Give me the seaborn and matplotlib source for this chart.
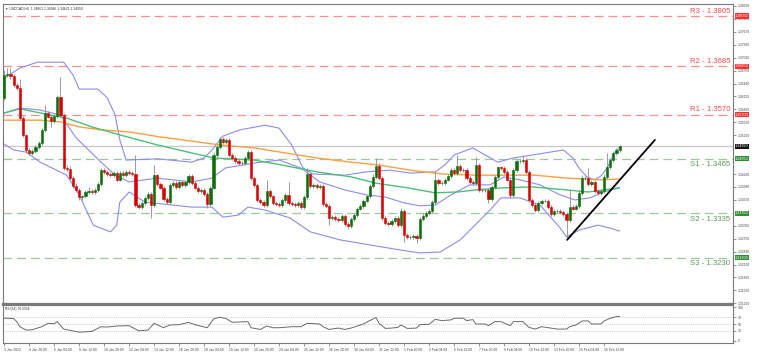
import numpy as np
import pandas as pd
import matplotlib
matplotlib.use("Agg")
import matplotlib.pyplot as plt
import seaborn as sns

sns.set_style("white")
plt.rcParams['font.family'] = ['Liberation Sans', 'DejaVu Sans']

# ---------------- data (USDCAD H4) ----------------
close = [
1.3665,1.3667,1.3662,1.3641,1.3634,1.3562,1.3522,1.3486,1.3479,1.3484,
1.3493,1.3503,1.3534,1.3574,1.3565,1.3555,1.3567,1.3612,1.3569,1.3443,
1.3441,1.3419,1.3400,1.3391,1.3374,1.3376,1.3386,1.3388,1.3386,1.3391,
1.3405,1.3438,1.3434,1.3429,1.3426,1.3431,1.3415,1.3431,1.3426,1.3434,
1.3431,1.3429,1.3355,1.3350,1.3360,1.3372,1.3381,1.3355,1.3426,1.3405,
1.3396,1.3369,1.3362,1.3403,1.3407,1.3398,1.3410,1.3403,1.3410,1.3424,
1.3407,1.3396,1.3388,1.3391,1.3381,1.3357,1.3396,1.3474,1.3493,1.3512,
1.3505,1.3510,1.3474,1.3467,1.3460,1.3455,1.3455,1.3467,1.3481,1.3419,
1.3403,1.3367,1.3362,1.3355,1.3388,1.3376,1.3360,1.3357,1.3355,1.3367,
1.3379,1.3360,1.3357,1.3355,1.3360,1.3350,1.3374,1.3429,1.3400,1.3403,
1.3398,1.3400,1.3357,1.3353,1.3324,1.3327,1.3322,1.3319,1.3329,1.3310,
1.3305,1.3322,1.3331,1.3346,1.3353,1.3365,1.3376,1.3400,1.3422,1.3448,
1.3419,1.3324,1.3312,1.3310,1.3317,1.3324,1.3307,1.3341,1.3284,1.3279,
1.3279,1.3281,1.3276,1.3322,1.3329,1.3336,1.3341,1.3362,1.3415,1.3407,
1.3407,1.3415,1.3424,1.3438,1.3431,1.3448,1.3438,1.3438,1.3419,1.3410,
1.3407,1.3450,1.3391,1.3391,1.3391,1.3369,1.3398,1.3422,1.3445,1.3443,
1.3434,1.3415,1.3379,1.3438,1.3460,1.3460,1.3462,1.3434,1.3367,1.3355,
1.3343,1.3360,1.3365,1.3365,1.3350,1.3334,1.3341,1.3341,1.3338,1.3334,
1.3319,1.3350,1.3346,1.3353,1.3384,1.3419,1.3419,1.3405,1.3410,1.3388,
1.3384,1.3388,1.3422,1.3445,1.3462,1.3479,1.3486,1.3495]

open_ = [
1.3610,1.3665,1.3667,1.3662,1.3641,1.3634,1.3562,1.3522,1.3486,1.3479,
1.3484,1.3493,1.3503,1.3534,1.3574,1.3565,1.3555,1.3567,1.3612,1.3569,
1.3443,1.3441,1.3419,1.3400,1.3391,1.3374,1.3376,1.3386,1.3388,1.3386,
1.3391,1.3405,1.3438,1.3434,1.3429,1.3426,1.3431,1.3415,1.3431,1.3426,
1.3434,1.3431,1.3429,1.3355,1.3350,1.3360,1.3372,1.3381,1.3355,1.3426,
1.3405,1.3396,1.3369,1.3362,1.3403,1.3407,1.3398,1.3410,1.3403,1.3410,
1.3424,1.3407,1.3396,1.3388,1.3391,1.3381,1.3357,1.3396,1.3474,1.3493,
1.3512,1.3505,1.3510,1.3474,1.3467,1.3460,1.3455,1.3455,1.3467,1.3481,
1.3419,1.3403,1.3367,1.3362,1.3355,1.3388,1.3376,1.3360,1.3357,1.3355,
1.3367,1.3379,1.3360,1.3357,1.3355,1.3360,1.3350,1.3374,1.3429,1.3400,
1.3403,1.3398,1.3400,1.3357,1.3353,1.3324,1.3327,1.3322,1.3319,1.3329,
1.3310,1.3305,1.3322,1.3331,1.3346,1.3353,1.3365,1.3376,1.3400,1.3422,
1.3448,1.3419,1.3324,1.3312,1.3310,1.3317,1.3324,1.3307,1.3341,1.3284,
1.3279,1.3279,1.3281,1.3276,1.3322,1.3329,1.3336,1.3341,1.3362,1.3415,
1.3407,1.3407,1.3415,1.3424,1.3438,1.3431,1.3448,1.3438,1.3438,1.3419,
1.3410,1.3407,1.3450,1.3391,1.3391,1.3391,1.3369,1.3398,1.3422,1.3445,
1.3443,1.3434,1.3415,1.3379,1.3438,1.3460,1.3460,1.3462,1.3434,1.3367,
1.3355,1.3343,1.3360,1.3365,1.3365,1.3350,1.3334,1.3341,1.3341,1.3338,
1.3334,1.3319,1.3350,1.3346,1.3353,1.3384,1.3419,1.3419,1.3405,1.3410,
1.3388,1.3384,1.3388,1.3422,1.3445,1.3462,1.3479,1.3486]

# wick lengths above / below the body, in pips
upper_wick = [
11,14,14,4,5,20,4,3,4,4, 4,4,5,19,4,4,4,6,48,5,
8,6,4,8,4,4,5,10,4,4, 4,6,4,4,4,4,4,4,4,4,
4,4,45,4,4,4,4,4,24,4, 4,4,4,4,4,4,4,4,4,4,
4,4,4,4,4,4,4,8,4,6, 5,4,4,4,4,4,4,4,6,4,
4,4,4,4,27,4,4,4,4,4, 4,31,4,4,4,4,4,14,4,4,
4,4,4,4,4,4,4,4,4,4, 4,4,4,4,4,4,4,4,6,19,
6,4,4,4,4,4,4,6,4,4, 4,4,4,4,8,4,4,4,19,4,
4,4,4,4,4,26,4,4,4,4, 4,19,4,4,4,4,4,4,4,4,
4,4,4,6,4,4,12,4,4,4, 4,4,4,4,4,4,4,4,4,4,
4,41,4,4,6,8,4,24,4,4, 4,4,6,34,4,4,4,3]
lower_wick = [
5,6,6,4,4,4,4,6,5,4, 4,4,4,4,4,15,4,4,4,4,
4,4,4,4,8,6,4,4,4,4, 4,4,4,4,4,4,4,4,4,4,
4,4,4,4,4,4,4,31,4,4, 4,4,4,4,4,4,4,4,4,4,
4,4,4,4,4,10,4,4,4,4, 4,4,4,4,4,4,4,4,4,4,
4,4,4,4,4,4,4,4,4,4, 4,4,4,4,4,4,4,4,4,4,
4,4,4,4,17,4,4,4,4,4, 6,4,4,4,4,4,4,4,4,4,
4,4,4,4,4,4,4,4,17,4, 4,4,11,4,4,4,4,4,4,4,
4,4,4,4,4,4,4,4,4,4, 4,4,4,4,4,9,4,4,4,4,
4,4,8,4,4,4,4,4,4,4, 4,4,4,4,4,4,4,4,4,4,
43,4,4,4,4,4,4,4,4,4, 4,4,4,4,4,4,4,4]

# moving averages (bar index, price)
ma_slow_bar = [0, 11.5, 18, 24, 31, 40, 50, 60, 69, 80, 90, 100, 111, 120, 130, 140, 151, 160, 170, 180, 191, 197]
ma_slow_val = [1.3557, 1.3557, 1.3553, 1.3541, 1.3534, 1.3529, 1.3517, 1.3507, 1.3498, 1.3491, 1.3479, 1.3467,
               1.3457, 1.3450, 1.3438, 1.3429, 1.3426, 1.3426, 1.3426, 1.3419, 1.3415, 1.3417]
ma_fast_bar = [0, 5, 15, 20, 28, 37, 49, 60, 67, 80, 89, 100, 111, 119, 129, 138, 145, 151, 160, 169, 180, 187, 197]
ma_fast_val = [1.3574, 1.3584, 1.3569, 1.3562, 1.3541, 1.3522, 1.3498, 1.3479, 1.3467, 1.3462, 1.3450, 1.3434,
               1.3422, 1.3407, 1.3396, 1.3384, 1.3386, 1.3391, 1.3396, 1.3398, 1.3391, 1.3386, 1.3396]

# Bollinger bands (bar index, price)
bb_up_bar = [0, 5, 10.6, 19, 22, 24, 30, 33, 35.5, 37, 39, 49, 60, 64, 66.5, 70, 75.5, 83.5, 88, 92, 95.7, 98.6,
             109, 116, 123.5, 130, 138, 141, 144, 150, 154, 158, 163, 169, 179, 182, 184, 186.5, 189, 191, 193, 195, 197]
bb_up_val = [1.3657, 1.3681, 1.3695, 1.3695, 1.3665, 1.3631, 1.3631, 1.3610, 1.3569, 1.3510, 1.3462, 1.3465, 1.3457,
             1.3467, 1.3486, 1.3519, 1.3534, 1.3545, 1.3538, 1.3498, 1.3443, 1.3429, 1.3426, 1.3434, 1.3438, 1.3431,
             1.3434, 1.3450, 1.3474, 1.3491, 1.3474, 1.3457, 1.3467, 1.3474, 1.3486, 1.3467, 1.3443, 1.3422, 1.3415,
             1.3424, 1.3443, 1.3474, 1.3493]
bb_mid_bar = [0, 5, 11.5, 18, 23, 31, 35.5, 40, 49, 60, 66.5, 70.7, 80, 88, 95, 101, 109, 116, 122, 128, 133, 138,
              143, 149, 155.5, 160, 165, 171.5, 178, 182.7, 187.5, 192, 197]
bb_mid_val = [1.3574, 1.3586, 1.3581, 1.3569, 1.3515, 1.3457, 1.3426, 1.3410, 1.3419, 1.3410, 1.3419, 1.3443, 1.3455,
              1.3462, 1.3443, 1.3410, 1.3391, 1.3379, 1.3374, 1.3360, 1.3353, 1.3355, 1.3379, 1.3403, 1.3403, 1.3422,
              1.3415, 1.3403, 1.3379, 1.3367, 1.3372, 1.3386, 1.3396]
bb_lo_bar = [0, 3, 7, 11.5, 20, 24, 28.5, 34, 36, 37, 40, 45, 60, 66.5, 70, 75, 78, 83.5, 91.5, 98, 107.5, 117,
             126.7, 133, 139.5, 146, 150.7, 155.5, 159, 165, 171.5, 178, 180, 184, 190, 194, 197]
bb_lo_val = [1.3500, 1.3486, 1.3481, 1.3457, 1.3426, 1.3379, 1.3307, 1.3291, 1.3307, 1.3362, 1.3386, 1.3362, 1.3350,
             1.3350, 1.3326, 1.3331, 1.3350, 1.3343, 1.3324, 1.3291, 1.3272, 1.3260, 1.3248, 1.3241, 1.3243, 1.3272,
             1.3307, 1.3343, 1.3372, 1.3372, 1.3355, 1.3300, 1.3279, 1.3295, 1.3307, 1.3300, 1.3293]

# RSI(14) (bar index, value)
rsi_bar = [0, 3, 4, 5, 7, 9, 12, 14, 16, 17, 19, 24, 28, 31, 33, 36, 40, 43, 46, 47, 48, 51, 53, 56, 59, 61, 65, 67,
           69, 71, 73, 78, 79, 82, 84, 86, 88, 92, 95, 97, 101, 102, 104, 107, 109, 111, 113, 115, 117, 119, 120,
           122, 124, 126, 127, 129, 132, 133, 136, 138, 140, 143, 144, 147, 148, 150, 151, 154, 155, 157, 159, 162,
           163, 166, 168, 170, 172, 175, 177, 180, 181, 183, 185, 187, 188, 191, 192, 194, 196, 197]
rsi_val = [67, 66, 57, 42, 32, 33, 42, 52, 51, 57, 35, 26, 28, 42, 41, 44, 45, 30, 32, 42, 52, 39, 47, 48, 55, 48, 39,
           65, 70, 66, 55, 57, 39, 34, 44, 39, 39, 42, 42, 52, 50, 42, 34, 38, 34, 38, 44, 50, 60, 69, 52, 37, 38, 40,
           47, 37, 38, 48, 49, 64, 60, 62, 67, 67, 60, 63, 50, 50, 45, 57, 57, 45, 57, 57, 40, 35, 42, 38, 35, 35,
           42, 47, 59, 59, 50, 50, 59, 67, 72, 72]

# support / resistance levels
level_names = ["R3", "R2", "R1", "S1", "S2", "S3"]
level_values = [1.3805, 1.3685, 1.3570, 1.3465, 1.3335, 1.3230]
current_price = 1.3495

# trend line (bar index, price)
trend_bar = [180.2, 208.3]
trend_val = [1.3272, 1.3510]

price_ticks = [1.38290, 1.37985, 1.37675, 1.37365, 1.37060, 1.36750, 1.36440, 1.36135, 1.35825, 1.35520,
               1.35210, 1.34900, 1.34595, 1.34285, 1.33980, 1.33670, 1.33365, 1.33055, 1.32750, 1.32440,
               1.32130, 1.31825, 1.31520, 1.31210]
rsi_ticks = [100, 70, 50, 30, 0]
time_labels = ["3 Jan 2023", "4 Jan 20:00", "6 Jan 04:00", "9 Jan 12:00", "10 Jan 20:00", "12 Jan 04:00",
               "13 Jan 12:00", "16 Jan 20:00", "18 Jan 04:00", "19 Jan 12:00", "20 Jan 20:00", "24 Jan 04:00",
               "25 Jan 12:00", "26 Jan 20:00", "30 Jan 04:00", "31 Jan 12:00", "1 Feb 20:00", "3 Feb 04:00",
               "6 Feb 12:00", "7 Feb 20:00", "9 Feb 04:00", "10 Feb 12:00", "13 Feb 20:00", "15 Feb 04:00",
               "16 Feb 12:00"]
time_label_step = 8

# ---------------- figure ----------------
W, H = 757, 357
TINY = 2.4
fig = plt.figure(figsize=(W / 100, H / 100), dpi=100)
ax = fig.add_axes([3 / W, 1 - 304 / H, 730 / W, 300 / H])
axr = fig.add_axes([3 / W, 1 - 343 / H, 730 / W, 38 / H])

n = len(close)
df = pd.DataFrame({"bar": np.arange(n), "open": open_, "close": close})
df["top"] = df[["open", "close"]].max(axis=1)
df["bot"] = df[["open", "close"]].min(axis=1)
df["high"] = df["top"] + np.array(upper_wick) * 1e-4
df["low"] = df["bot"] - np.array(lower_wick) * 1e-4
df["up"] = df["close"] >= df["open"]

GREEN = "#0b6e0b"
RED = "#d60000"

# levels
for name, val in zip(level_names, level_values):
    is_r = name.startswith("R")
    lc = "#ff8f8f" if is_r else "#9cc79c"
    tc = "#ff4a4a" if is_r else "#5a9a5a"
    ax.axhline(val, color=lc, lw=0.9, ls=(0, (7, 4)), zorder=1)
    ax.text(0.9965, val + (0.00035 if is_r else -0.0006), f"{name} - {val:.4f}",
            transform=ax.get_yaxis_transform(), ha="right", va="bottom" if is_r else "top",
            fontsize=5.6, color=tc, zorder=6)
ax.axhline(current_price, color="#c8c8c8", lw=0.9, zorder=1)

# indicators
sns.lineplot(x=bb_up_bar, y=bb_up_val, ax=ax, color="#8c8cf0", lw=0.8, zorder=2)
sns.lineplot(x=bb_mid_bar, y=bb_mid_val, ax=ax, color="#8c8cf0", lw=0.8, zorder=2)
sns.lineplot(x=bb_lo_bar, y=bb_lo_val, ax=ax, color="#8c8cf0", lw=0.8, zorder=2)
sns.lineplot(x=ma_slow_bar, y=ma_slow_val, ax=ax, color="#ffa040", lw=1.0, zorder=2)
sns.lineplot(x=ma_fast_bar, y=ma_fast_val, ax=ax, color="#4cbf7a", lw=1.0, zorder=2)

# candles
ax.vlines(df["bar"], df["low"], df["high"], color="#8a8a8a", lw=0.6, zorder=3)
cols = np.where(df["up"], GREEN, RED)
ax.bar(df["bar"], df["top"] - df["bot"], bottom=df["bot"], width=0.7, color=cols,
       edgecolor=cols, linewidth=0.4, zorder=4)

# trend line
ax.plot(trend_bar, trend_val, color="black", lw=1.3, zorder=5)

YLO, YHI = 1.31193, 1.38336
ax.set_xlim(-0.4, 233.3)
ax.set_ylim(YLO, YHI)
ax.set_xticks([])
ax.yaxis.tick_right()
box_values = level_values + [current_price]
shown_ticks = [t for t in price_ticks if YLO < t < YHI and min(abs(t - b) for b in box_values) > 0.0006]
ax.set_yticks(shown_ticks)
ax.set_yticklabels([f"{t:.5f}" for t in shown_ticks])
ax.tick_params(axis="y", labelsize=TINY, length=2, width=0.4, pad=1.5, colors="#444444")
ax.set_xlabel("")
ax.set_ylabel("")
for s in ax.spines.values():
    s.set_color("#7a7a7a")
    s.set_linewidth(0.8)
ax.spines["bottom"].set_linewidth(1.6)

# right side price boxes
def price_box(val, fc):
    ax.annotate(f"{val:.5f}", xy=(1.0, val), xycoords=ax.get_yaxis_transform(),
                xytext=(1.5, 0), textcoords="offset points", ha="left", va="center",
                fontsize=2.7, color="white", annotation_clip=False, zorder=10,
                bbox=dict(boxstyle="square,pad=0.15", fc=fc, ec=fc, lw=0))

for name, val in zip(level_names, level_values):
    price_box(val, "#ff3030" if name.startswith("R") else "#2f8f2f")
price_box(current_price, "#111111")

ax.text(0.003, 0.993, "\u25bc USDCAD,H4  1.34661 1.34986 1.34621 1.34950", transform=ax.transAxes,
        ha="left", va="top", fontsize=TINY, color="#333333")

# RSI panel
for lvl in (70, 50, 30):
    axr.axhline(lvl, color="#c0c0c0", lw=0.5, ls=(0, (1.5, 1.5)), zorder=1)
sns.lineplot(x=rsi_bar, y=rsi_val, ax=axr, color="#6a6a6a", lw=0.7, zorder=2)
axr.set_xlim(-0.4, 233.3)
axr.set_ylim(-6, 106)
axr.yaxis.tick_right()
axr.set_yticks(rsi_ticks)
axr.set_yticklabels([str(t) for t in rsi_ticks])
axr.tick_params(axis="y", labelsize=TINY, length=2, width=0.4, pad=1.5, colors="#444444")
tick_pos = [i * time_label_step for i in range(len(time_labels))]
axr.set_xticks(tick_pos)
axr.set_xticklabels(time_labels, ha="left")
axr.tick_params(axis="x", labelsize=TINY, length=2, width=0.4, pad=1.5, colors="#444444", bottom=True)
axr.set_xlabel("")
axr.set_ylabel("")
for s in axr.spines.values():
    s.set_color("#7a7a7a")
    s.set_linewidth(0.8)
axr.spines["top"].set_linewidth(1.6)
axr.text(0.003, 0.95, "RSI(14) 70.5556", transform=axr.transAxes, ha="left", va="top",
         fontsize=TINY, color="#333333")

fig.savefig("out.png", dpi=100, facecolor="white")
